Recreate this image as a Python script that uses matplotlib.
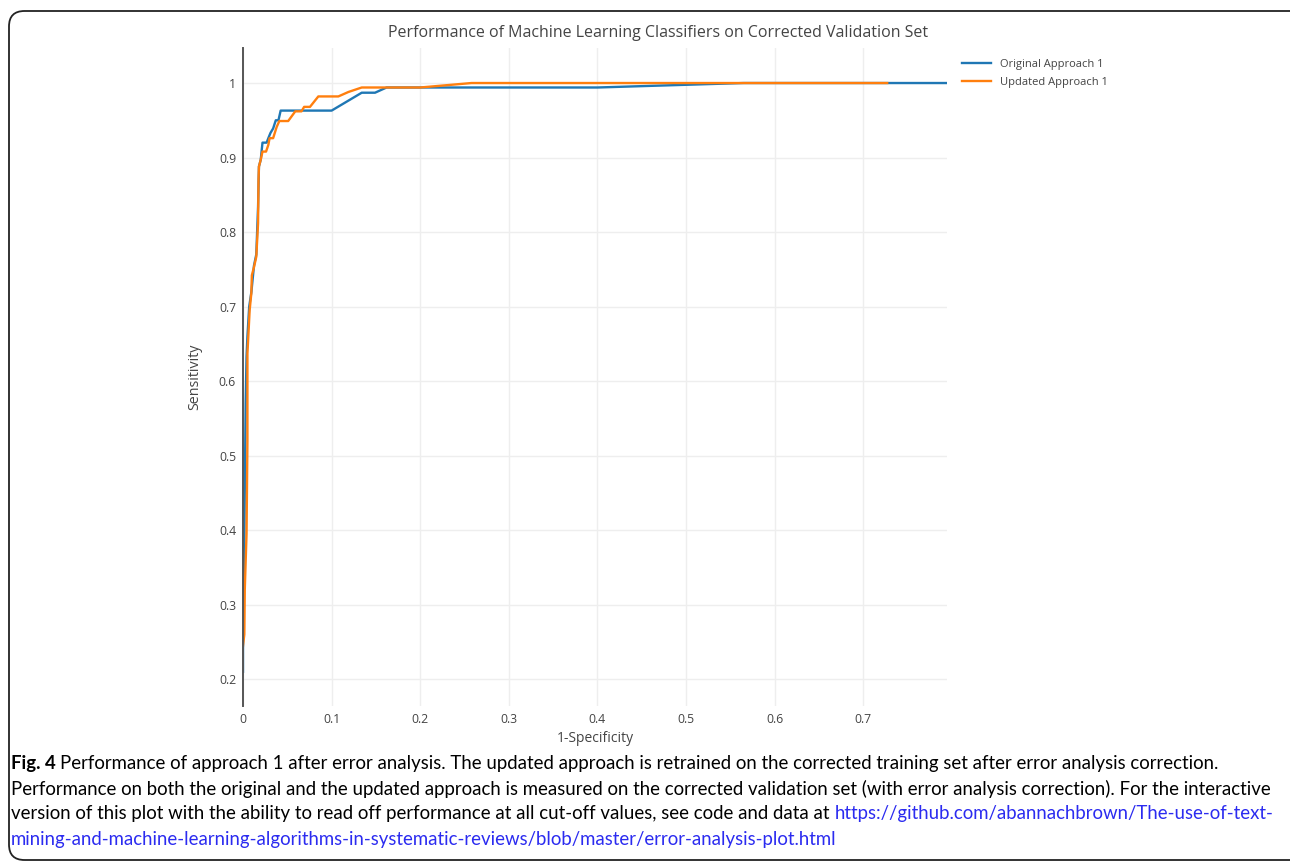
import matplotlib.pyplot as plt
from matplotlib.patches import FancyBboxPatch

# ROC points (x = 1-specificity, y = sensitivity)
fpr_original = [0, 0, 0.001, 0.002, 0.003, 0.004, 0.005, 0.007, 0.0095, 0.0124,
                0.015, 0.017, 0.018, 0.02, 0.022, 0.0267, 0.0286, 0.031, 0.034,
                0.037, 0.040, 0.0425, 0.1, 0.134, 0.149, 0.162, 0.40, 0.565, 0.794]
tpr_original = [0.21, 0.24, 0.33, 0.45, 0.57, 0.633, 0.66, 0.70, 0.72, 0.755,
                0.77, 0.834, 0.888, 0.897, 0.92, 0.92, 0.926, 0.933, 0.939,
                0.950, 0.950, 0.963, 0.963, 0.987, 0.987, 0.994, 0.994, 1.0, 1.0]

fpr_updated = [0, 0.0015, 0.002, 0.004, 0.005, 0.005, 0.0075, 0.0094, 0.010,
               0.0124, 0.015, 0.017, 0.0175, 0.018, 0.02, 0.022, 0.026, 0.0286,
               0.030, 0.034, 0.038, 0.041, 0.051, 0.059, 0.066, 0.069, 0.0756,
               0.085, 0.1076, 0.119, 0.134, 0.2, 0.258, 0.727]
tpr_updated = [0.245, 0.26, 0.32, 0.395, 0.52, 0.637, 0.695, 0.718, 0.742,
               0.753, 0.767, 0.812, 0.87, 0.888, 0.897, 0.908, 0.908, 0.917,
               0.926, 0.926, 0.941, 0.949, 0.949, 0.962, 0.962, 0.968, 0.968,
               0.982, 0.982, 0.988, 0.994, 0.994, 1.0, 1.0]

x_ticks = [0, 0.1, 0.2, 0.3, 0.4, 0.5, 0.6, 0.7]
y_ticks = [0.2, 0.3, 0.4, 0.5, 0.6, 0.7, 0.8, 0.9, 1.0]

title = "Performance of Machine Learning Classifiers on Corrected Validation Set"
caption_lines = [
    "Performance of approach 1 after error analysis. The updated approach is retrained on the corrected training set after error analysis correction.",
    "Performance on both the original and the updated approach is measured on the corrected validation set (with error analysis correction). For the interactive",
    "version of this plot with the ability to read off performance at all cut-off values, see code and data at ",
]
link_1 = "https://github.com/abannachbrown/The-use-of-text-"
link_2 = "mining-and-machine-learning-algorithms-in-systematic-reviews/blob/master/error-analysis-plot.html"

plt.rcParams['font.family'] = ['Open Sans', 'DejaVu Sans']

W, H = 1290, 866
fig = plt.figure(figsize=(W / 100, H / 100), dpi=100)

# rounded frame round the figure panel
frame = FancyBboxPatch((9 / W, 1 - 860 / H), 1400 / W, 849 / H,
                       boxstyle="round,pad=0,rounding_size=0.012",
                       transform=fig.transFigure, fill=False,
                       edgecolor="#222222", linewidth=1.3, mutation_aspect=W / H)
fig.patches.append(frame)

ax = fig.add_axes([243 / W, 1 - 706 / H, (947 - 243) / W, (706 - 48) / H])
ax.plot(fpr_original, tpr_original, color="#1f77b4", lw=1.7, label="Original Approach 1")
ax.plot(fpr_updated, tpr_updated, color="#ff7f0e", lw=1.7, label="Updated Approach 1")

ax.set_xlim(0, 0.7945)
ax.set_ylim(0.164, 1.047)
ax.set_xticks(x_ticks)
ax.set_yticks(y_ticks)
ax.set_xticklabels([f"{v:g}" for v in x_ticks])
ax.set_yticklabels([f"{v:g}" for v in y_ticks])
ax.tick_params(length=0, labelsize=8.8, colors="#444444", pad=5)
ax.grid(True, color="#eeeeee", lw=1)
ax.set_axisbelow(True)
for side in ["top", "right", "bottom"]:
    ax.spines[side].set_visible(False)
ax.spines["left"].set_color("#555555")
ax.spines["left"].set_linewidth(1.4)

ax.set_xlabel("1-Specificity", fontsize=10, color="#444444", labelpad=4)
ax.set_ylabel("Sensitivity", fontsize=10.3, color="#444444", labelpad=12)

fig.text(658 / W, 1 - 33 / H, title, ha="center", va="center", fontsize=11.5, color="#444444")

ax.legend(loc="upper left", bbox_to_anchor=(1.01, 0.995), frameon=False, fontsize=8,
          handlelength=2.6, labelcolor="#444444", borderaxespad=0.3, labelspacing=0.62)

# caption
cap_font = ['Lato', 'DejaVu Sans']
cap_size = 13.4
y0 = 1 - 763 / H
dy = 25.5 / H
t = fig.text(11 / W, y0, "Fig. 4 ", fontsize=cap_size, fontweight="bold", family=cap_font, va="center")
fig.canvas.draw()
bb = t.get_window_extent()
fig.text(bb.x1 / W, y0, caption_lines[0], fontsize=cap_size, family=cap_font, va="center")
fig.text(11 / W, y0 - dy, caption_lines[1], fontsize=cap_size, family=cap_font, va="center")
t3 = fig.text(11 / W, y0 - 2 * dy, caption_lines[2], fontsize=cap_size, family=cap_font, va="center")
fig.canvas.draw()
bb3 = t3.get_window_extent()
fig.text(bb3.x1 / W, y0 - 2 * dy, link_1, fontsize=cap_size, family=cap_font, va="center", color="#2b2bf0")
fig.text(11 / W, y0 - 3 * dy, link_2, fontsize=cap_size, family=cap_font, va="center", color="#2b2bf0")

fig.savefig("out.png", dpi=100)
